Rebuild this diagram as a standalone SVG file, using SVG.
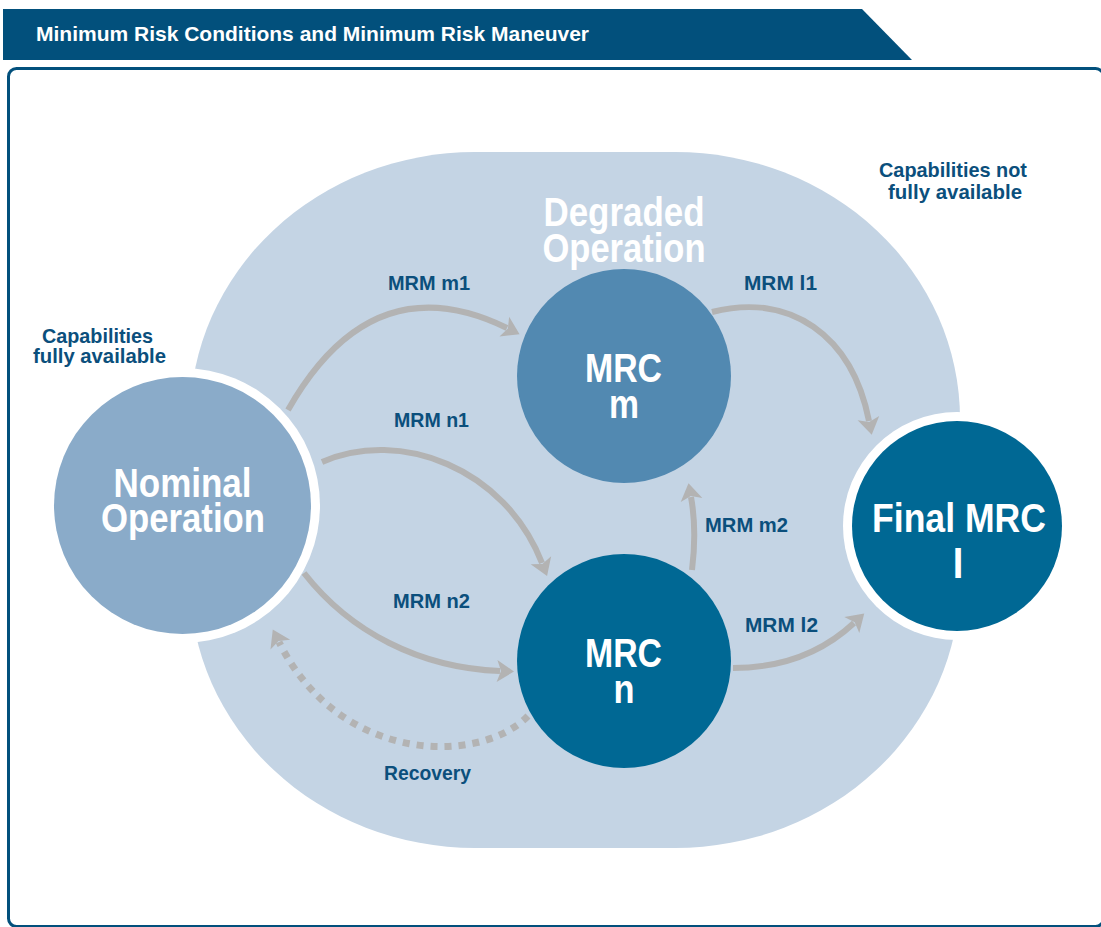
<svg xmlns="http://www.w3.org/2000/svg" width="1101" height="927" viewBox="0 0 1101 927">
<style>
.lbl{font-family:"Liberation Sans",Arial,sans-serif;font-weight:bold;font-size:21px;fill:#0b4f7c;text-anchor:middle}
.big{font-family:"Liberation Sans",Arial,sans-serif;font-weight:bold;font-size:40px;fill:#ffffff;text-anchor:middle}
.conn{fill:none;stroke:#b3b3b3;stroke-width:6;marker-end:url(#ah)}
.dash{stroke-width:7;stroke-dasharray:7 7}
</style>
<defs>
<marker id="ah" markerUnits="userSpaceOnUse" markerWidth="40" markerHeight="40" viewBox="-10 -20 40 40" refX="0" refY="0" orient="auto" overflow="visible">
<path d="M14,0 L-3,-11 L1,0 L-3,11 Z" fill="#b3b3b3"/>
</marker>
</defs>
<rect width="1101" height="927" fill="#ffffff"/>
<g id="header">
<polygon points="3,9 862,9 912,60 3,60" fill="#02507c"/>
<text x="36" y="41" font-family="Liberation Sans, Arial, sans-serif" font-weight="bold" font-size="21" fill="#ffffff" textLength="553" lengthAdjust="spacingAndGlyphs">Minimum Risk Conditions and Minimum Risk Maneuver</text>
</g>
<rect id="frame" x="8.5" y="68.5" width="1095" height="858" rx="8" fill="none" stroke="#02507c" stroke-width="3"/>
<g id="degraded">
<rect x="190" y="152" width="770" height="696" rx="285" ry="267" fill="#c4d4e4"/>
<text class="big" x="624" y="226" textLength="161" lengthAdjust="spacingAndGlyphs">Degraded</text>
<text class="big" x="624" y="262" textLength="163" lengthAdjust="spacingAndGlyphs">Operation</text>
</g>
<g id="cap-full">
<text class="lbl" x="97.5" y="343" textLength="111" lengthAdjust="spacingAndGlyphs">Capabilities</text>
<text class="lbl" x="99.5" y="363" textLength="133" lengthAdjust="spacingAndGlyphs">fully available</text>
</g>
<g id="cap-notfull">
<text class="lbl" x="953" y="177" textLength="148" lengthAdjust="spacingAndGlyphs">Capabilities not</text>
<text class="lbl" x="955" y="199" textLength="134" lengthAdjust="spacingAndGlyphs">fully available</text>
</g>
<g id="connectors">
<path class="conn" d="M288,410 Q372,262 507,328"/>
<path class="conn" d="M322,462 C400,428 505,468 542,563"/>
<path class="conn" d="M304,573 C350,632 420,668 500,671"/>
<path class="conn" d="M712,312 C790,292 852,335 869,421"/>
<path class="conn" d="M692,570 Q697,530 691,497"/>
<path class="conn" d="M733,668 C785,668 825,650 854,623"/>
<path class="conn dash" d="M528,716 C480,765 340,765 279,642"/>
<text class="lbl" x="429" y="290" textLength="82" lengthAdjust="spacingAndGlyphs">MRM m1</text>
<text class="lbl" x="431.5" y="427" textLength="75" lengthAdjust="spacingAndGlyphs">MRM n1</text>
<text class="lbl" x="431.5" y="608" textLength="77" lengthAdjust="spacingAndGlyphs">MRM n2</text>
<text class="lbl" x="780.5" y="290" textLength="73" lengthAdjust="spacingAndGlyphs">MRM l1</text>
<text class="lbl" x="746.5" y="532" textLength="83" lengthAdjust="spacingAndGlyphs">MRM m2</text>
<text class="lbl" x="781.5" y="632" textLength="73" lengthAdjust="spacingAndGlyphs">MRM l2</text>
<text class="lbl" x="427.5" y="780" textLength="87" lengthAdjust="spacingAndGlyphs">Recovery</text>
</g>
<g id="nominal">
<circle cx="182.5" cy="505.5" r="137.5" fill="#ffffff"/>
<circle cx="182.5" cy="505.5" r="128.5" fill="#8aabc9"/>
<text class="big" x="182.5" y="497" textLength="138" lengthAdjust="spacingAndGlyphs">Nominal</text>
<text class="big" x="183" y="532" textLength="164" lengthAdjust="spacingAndGlyphs">Operation</text>
</g>
<g id="mrc-m">
<circle cx="624" cy="376" r="107" fill="#5289b1"/>
<text class="big" x="623.5" y="382" textLength="77" lengthAdjust="spacingAndGlyphs">MRC</text>
<text class="big" x="624" y="418" textLength="30" lengthAdjust="spacingAndGlyphs">m</text>
</g>
<g id="mrc-n">
<circle cx="624" cy="661" r="107" fill="#006894"/>
<text class="big" x="623.5" y="667" textLength="77" lengthAdjust="spacingAndGlyphs">MRC</text>
<text class="big" x="624" y="703" textLength="21" lengthAdjust="spacingAndGlyphs">n</text>
</g>
<g id="final-mrc">
<circle cx="957" cy="526" r="114" fill="#ffffff"/>
<circle cx="957" cy="526" r="105" fill="#006894"/>
<text class="big" x="959" y="532" textLength="174" lengthAdjust="spacingAndGlyphs">Final MRC</text>
<text class="big" x="958" y="578">l</text>
</g>
</svg>
